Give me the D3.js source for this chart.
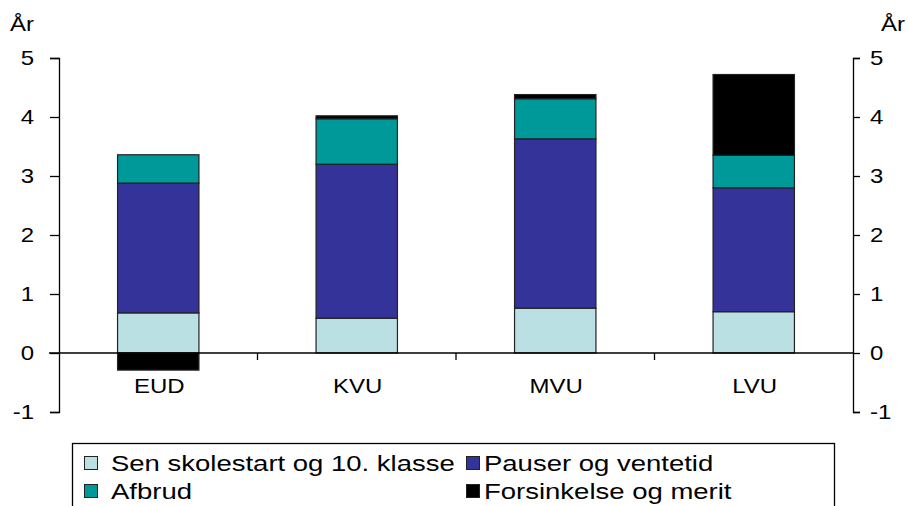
<!DOCTYPE html>
<html><head><meta charset="utf-8">
<script src="https://cdn.jsdelivr.net/npm/d3@7"></script>
<style>body{margin:0;background:#fff}svg{display:block}text{font-family:"Liberation Sans",Arial,sans-serif;fill:#000}</style>
</head><body><svg id="c" width="908" height="506"></svg>
<script>
const categories = ["EUD","KVU","MVU","LVU"];
const seriesNames = ["Sen skolestart og 10. klasse","Pauser og ventetid","Afbrud","Forsinkelse og merit"];
const senSkolestart = [0.68,0.59,0.76,0.70];
const pauser = [2.20,2.61,2.87,2.10];
const afbrud = [0.48,0.77,0.68,0.55];
const forsinkelse = [-0.29,0.05,0.07,1.37];
const yTicks = [-1,0,1,2,3,4,5];
const colors = ["#BBE0E3","#333399","#009999","#000000"];

const SX = 1.2;   // horizontal stretch of the original rendering
const SXL = 1.25; // legend stretch
const svg = d3.select("#c");
const x = d3.scaleBand().domain(categories).range([59,853]).paddingInner(0.59).paddingOuter(0.295);
const y = d3.scaleLinear().domain([-1,5]).range([412,58]);
const series = [senSkolestart,pauser,afbrud,forsinkelse];

function stext(px,py,str,size,anchor,sx){
  return svg.append("text").attr("transform",`translate(${px},${py}) scale(${sx||SX},1)`)
    .attr("font-size",size).attr("text-anchor",anchor||"start").text(str);
}

// bars
categories.forEach((c,i)=>{
  let pos=0, neg=0;
  series.forEach((s,k)=>{
    const v=s[i];
    let y0,y1;
    if(v>=0){y0=pos;y1=pos+v;pos=y1;} else {y0=neg;y1=neg+v;neg=y1;}
    svg.append("rect").attr("x",x(c)).attr("width",x.bandwidth())
      .attr("y",y(Math.max(y0,y1))).attr("height",Math.abs(y(y0)-y(y1)))
      .attr("fill",colors[k]).attr("stroke","#222").attr("stroke-width",1.2);
  });
});

// zero line
svg.append("line").attr("x1",49).attr("x2",853).attr("y1",y(0)).attr("y2",y(0)).attr("stroke","#000").attr("stroke-width",1.3);
// category boundary ticks
const bounds = categories.slice(1).map(c=>x(c)-(x.step()-x.bandwidth())/2);
bounds.forEach(b=>svg.append("line").attr("x1",b).attr("x2",b).attr("y1",y(0)).attr("y2",y(0)+7).attr("stroke","#000").attr("stroke-width",1.3));

// axes
const fmt = d=>String(d);
const la = svg.append("g").attr("transform","translate(59,0)").call(d3.axisLeft(y).tickValues(yTicks).tickSize(9).tickPadding(16).tickFormat(fmt));
const ra = svg.append("g").attr("transform","translate(853,0)").call(d3.axisRight(y).tickValues(yTicks).tickSize(7).tickPadding(10).tickFormat(fmt));
[la,ra].forEach(a=>{
  a.select(".domain").attr("stroke","#000").attr("stroke-width",1.3);
  a.selectAll(".tick line").attr("stroke","#000").attr("stroke-width",1.3);
  a.selectAll("text").attr("font-size",20).attr("font-family","Liberation Sans, Arial, sans-serif").attr("fill","#000")
    .each(function(){const t=d3.select(this);const tx=+t.attr("x");t.attr("x",null).attr("transform",`translate(${tx},0) scale(${SX},1)`);});
});
la.select(".domain").attr("d","M-9,58.5H0.5V412.5H-9");
ra.select(".domain").attr("d","M7,58.5H0.5V412.5H7");

// category labels
categories.forEach(c=>stext(x(c)+x.bandwidth()/2+1,393,c,20,"middle"));

// År labels
stext(10,31,"År",20);
stext(881,31,"År",20);

// legend
svg.append("rect").attr("x",72.5).attr("y",443.5).attr("width",762).attr("height",80).attr("fill","none").attr("stroke","#000").attr("stroke-width",1.3);
const lpos = [[84,463,111],[466,463,484],[84,491,111],[466,491,484]];
seriesNames.forEach((n,k)=>{
  const [lx,ly,tx]=lpos[k];
  svg.append("rect").attr("x",lx+0.5).attr("y",ly-6.5).attr("width",13).attr("height",13).attr("fill",colors[k]).attr("stroke","#222").attr("stroke-width",1);
  stext(tx,ly+8,n,22,"start",SXL);
});
</script></body></html>
